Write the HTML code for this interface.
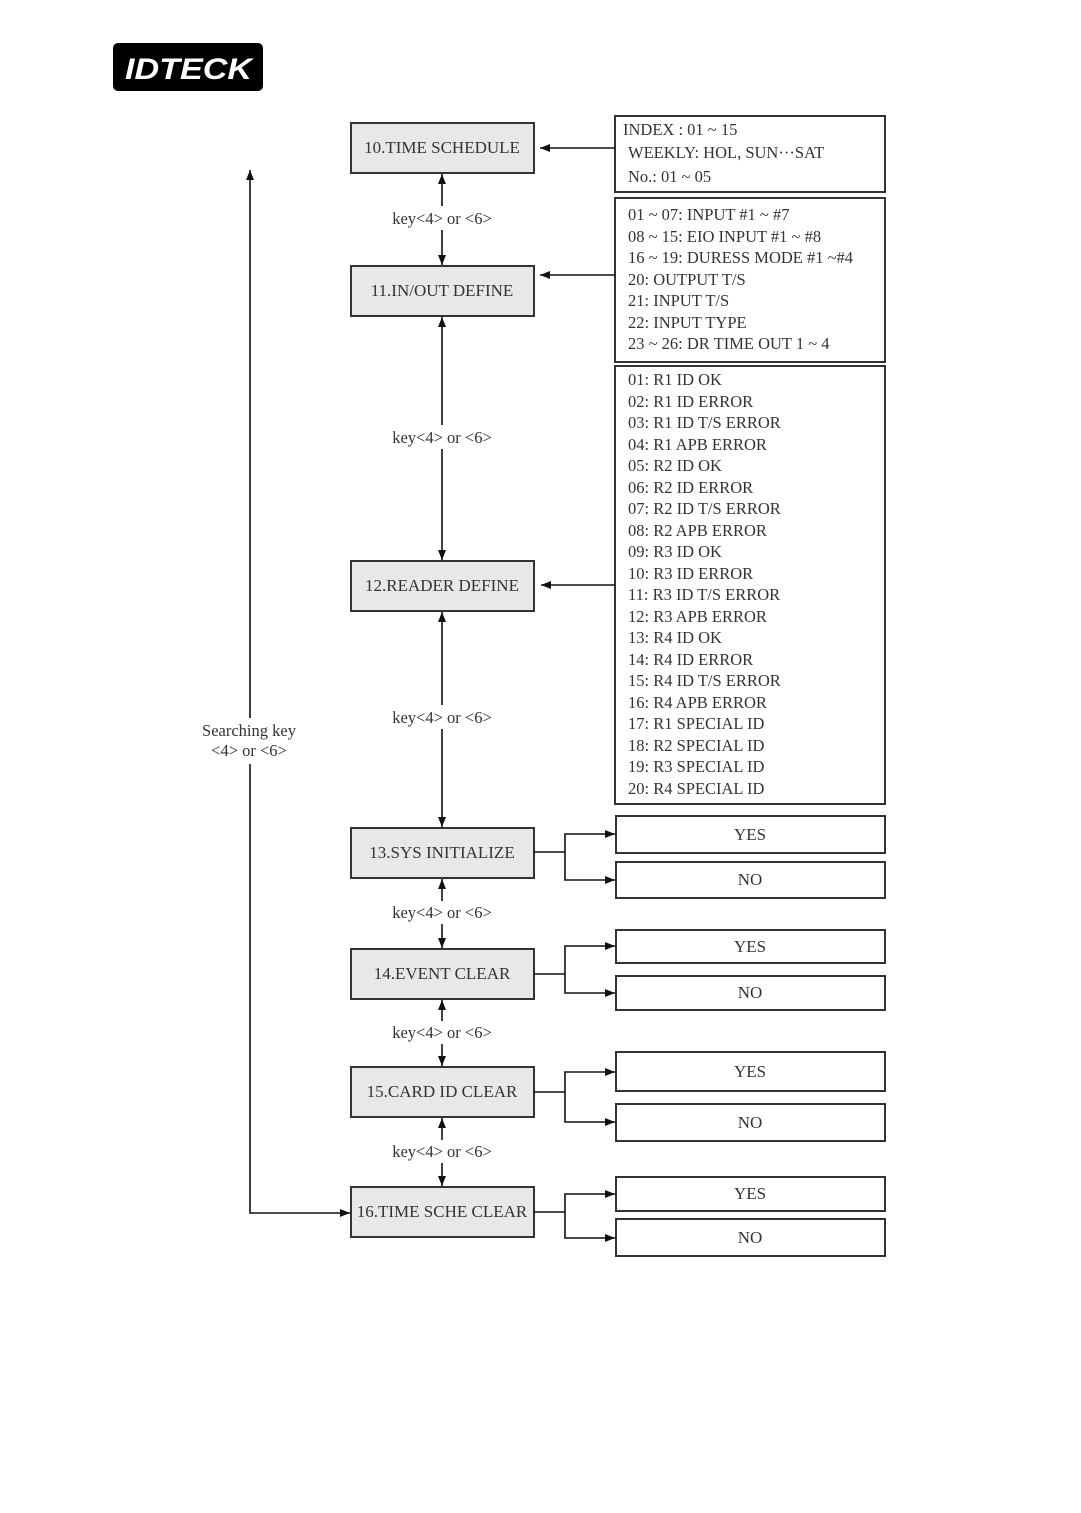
<!DOCTYPE html>
<html><head><meta charset="utf-8">
<style>
html,body{margin:0;padding:0;background:#fff;}
svg{display:block;}
text{font-family:"Liberation Serif",serif;fill:#333;}
</style></head>
<body>
<svg width="1081" height="1513" viewBox="0 0 1081 1513" xmlns="http://www.w3.org/2000/svg">
<defs>
<marker id="a" viewBox="0 0 10 10" refX="10" refY="5" markerWidth="10" markerHeight="10" markerUnits="userSpaceOnUse" orient="auto-start-reverse">
<path d="M0,1 L10,5 L0,9 z" fill="#111"/>
</marker>
</defs>
<!-- logo -->
<rect x="113" y="43" width="150" height="48" rx="5" fill="#000"/>
<text x="125" y="79" font-family="Liberation Sans,sans-serif" font-weight="bold" font-style="italic" font-size="30" textLength="127" lengthAdjust="spacingAndGlyphs" style="fill:#fff;font-family:'Liberation Sans',sans-serif">IDTECK</text>

<g stroke="#333" stroke-width="2" fill="#e8e8e8">
<rect x="351" y="123" width="183" height="50"/>
<rect x="351" y="266" width="183" height="50"/>
<rect x="351" y="561" width="183" height="50"/>
<rect x="351" y="828" width="183" height="50"/>
<rect x="351" y="949" width="183" height="50"/>
<rect x="351" y="1067" width="183" height="50"/>
<rect x="351" y="1187" width="183" height="50"/>
</g>
<g stroke="#333" stroke-width="2" fill="#fff">
<rect x="615" y="116" width="270" height="76"/>
<rect x="615" y="198" width="270" height="164"/>
<rect x="615" y="366" width="270" height="438"/>
<rect x="616" y="816" width="269" height="37"/>
<rect x="616" y="862" width="269" height="36"/>
<rect x="616" y="930" width="269" height="33"/>
<rect x="616" y="976" width="269" height="34"/>
<rect x="616" y="1052" width="269" height="39"/>
<rect x="616" y="1104" width="269" height="37"/>
<rect x="616" y="1177" width="269" height="34"/>
<rect x="616" y="1219" width="269" height="37"/>
</g>

<g font-size="17" text-anchor="middle">
<text x="442" y="153">10.TIME SCHEDULE</text>
<text x="442" y="296">11.IN/OUT DEFINE</text>
<text x="442" y="591">12.READER DEFINE</text>
<text x="442" y="858">13.SYS INITIALIZE</text>
<text x="442" y="979">14.EVENT CLEAR</text>
<text x="442" y="1097">15.CARD ID CLEAR</text>
<text x="442" y="1217">16.TIME SCHE CLEAR</text>
<text x="750" y="840">YES</text>
<text x="750" y="885">NO</text>
<text x="750" y="952">YES</text>
<text x="750" y="998">NO</text>
<text x="750" y="1077">YES</text>
<text x="750" y="1128">NO</text>
<text x="750" y="1199">YES</text>
<text x="750" y="1243">NO</text>
</g>

<g font-size="16.5">
<text x="623" y="135">INDEX :  01 ~ 15</text>
<text x="628" y="158">WEEKLY: HOL, SUN···SAT</text>
<text x="628" y="182">No.: 01 ~ 05</text>
<text x="628" y="220">01 ~ 07: INPUT #1 ~ #7</text>
<text x="628" y="242">08 ~ 15: EIO INPUT #1 ~ #8</text>
<text x="628" y="263">16 ~ 19: DURESS MODE #1 ~#4</text>
<text x="628" y="285">20: OUTPUT T/S</text>
<text x="628" y="306">21: INPUT T/S</text>
<text x="628" y="328">22: INPUT TYPE</text>
<text x="628" y="349">23 ~ 26: DR TIME OUT 1 ~ 4</text>
<text x="628" y="385">01: R1 ID OK</text>
<text x="628" y="407">02: R1 ID ERROR</text>
<text x="628" y="428">03: R1 ID T/S ERROR</text>
<text x="628" y="450">04: R1 APB ERROR</text>
<text x="628" y="471">05: R2 ID OK</text>
<text x="628" y="493">06: R2 ID ERROR</text>
<text x="628" y="514">07: R2 ID T/S ERROR</text>
<text x="628" y="536">08: R2 APB ERROR</text>
<text x="628" y="557">09: R3 ID OK</text>
<text x="628" y="579">10: R3 ID ERROR</text>
<text x="628" y="600">11: R3 ID T/S ERROR</text>
<text x="628" y="622">12: R3 APB ERROR</text>
<text x="628" y="643">13: R4 ID OK</text>
<text x="628" y="665">14: R4 ID ERROR</text>
<text x="628" y="686">15: R4 ID T/S ERROR</text>
<text x="628" y="708">16: R4 APB ERROR</text>
<text x="628" y="729">17: R1 SPECIAL ID</text>
<text x="628" y="751">18: R2 SPECIAL ID</text>
<text x="628" y="772">19: R3 SPECIAL ID</text>
<text x="628" y="794">20: R4 SPECIAL ID</text>
</g>

<g stroke="#111" stroke-width="1.6" fill="none">
<!-- info arrows -->
<line x1="615" y1="148" x2="540" y2="148" marker-end="url(#a)"/>
<line x1="615" y1="275" x2="540" y2="275" marker-end="url(#a)"/>
<line x1="615" y1="585" x2="541" y2="585" marker-end="url(#a)"/>
<!-- verticals -->
<line x1="442" y1="174" x2="442" y2="206" marker-start="url(#a)"/>
<line x1="442" y1="230" x2="442" y2="265" marker-end="url(#a)"/>
<line x1="442" y1="317" x2="442" y2="425" marker-start="url(#a)"/>
<line x1="442" y1="449" x2="442" y2="560" marker-end="url(#a)"/>
<line x1="442" y1="612" x2="442" y2="705" marker-start="url(#a)"/>
<line x1="442" y1="729" x2="442" y2="827" marker-end="url(#a)"/>
<line x1="442" y1="879" x2="442" y2="901" marker-start="url(#a)"/>
<line x1="442" y1="924" x2="442" y2="948" marker-end="url(#a)"/>
<line x1="442" y1="1000" x2="442" y2="1021" marker-start="url(#a)"/>
<line x1="442" y1="1044" x2="442" y2="1066" marker-end="url(#a)"/>
<line x1="442" y1="1118" x2="442" y2="1140" marker-start="url(#a)"/>
<line x1="442" y1="1163" x2="442" y2="1186" marker-end="url(#a)"/>
<!-- left loop -->
<line x1="250" y1="170" x2="250" y2="718" marker-start="url(#a)"/>
<polyline points="250,764 250,1213 350,1213" marker-end="url(#a)"/>
<!-- branches -->
<line x1="534" y1="852" x2="565" y2="852"/>
<polyline points="615,834 565,834 565,880 615,880" marker-start="url(#a)" marker-end="url(#a)"/>
<line x1="534" y1="974" x2="565" y2="974"/>
<polyline points="615,946 565,946 565,993 615,993" marker-start="url(#a)" marker-end="url(#a)"/>
<line x1="534" y1="1092" x2="565" y2="1092"/>
<polyline points="615,1072 565,1072 565,1122 615,1122" marker-start="url(#a)" marker-end="url(#a)"/>
<line x1="534" y1="1212" x2="565" y2="1212"/>
<polyline points="615,1194 565,1194 565,1238 615,1238" marker-start="url(#a)" marker-end="url(#a)"/>
</g>

<g font-size="16.5" text-anchor="middle">
<text x="442" y="224">key&lt;4&gt; or &lt;6&gt;</text>
<text x="442" y="443">key&lt;4&gt; or &lt;6&gt;</text>
<text x="442" y="723">key&lt;4&gt; or &lt;6&gt;</text>
<text x="442" y="918">key&lt;4&gt; or &lt;6&gt;</text>
<text x="442" y="1038">key&lt;4&gt; or &lt;6&gt;</text>
<text x="442" y="1157">key&lt;4&gt; or &lt;6&gt;</text>
<text x="249" y="736">Searching key</text>
<text x="249" y="756">&lt;4&gt; or &lt;6&gt;</text>
</g>
</svg>
</body></html>
